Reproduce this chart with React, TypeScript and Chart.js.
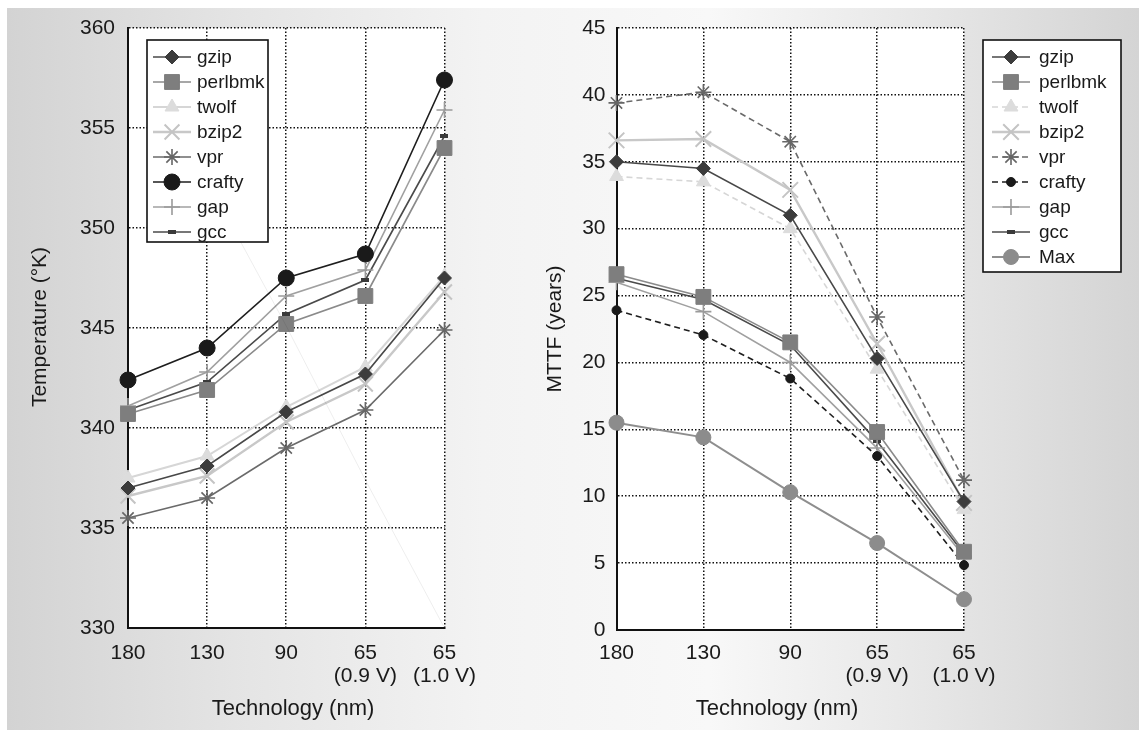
import React, { useEffect, useRef } from 'react';
import { Chart, registerables } from 'chart.js';
import { drawPoint } from 'chart.js/helpers';

Chart.register(...registerables);

// ---------------- data ----------------
const categories: string[][] = [['180'], ['130'], ['90'], ['65', '(0.9 V)'], ['65', '(1.0 V)']];
const tempTicks = [330, 335, 340, 345, 350, 355, 360];
const mttfTicks = [0, 5, 10, 15, 20, 25, 30, 35, 40, 45];

const tempGzip = [337.0, 338.1, 340.8, 342.7, 347.5];
const tempPerlbmk = [340.7, 341.9, 345.2, 346.6, 354.0];
const tempTwolf = [337.5, 338.6, 341.05, 343.05, 347.6];
const tempBzip2 = [336.6, 337.6, 340.3, 342.2, 346.8];
const tempVpr = [335.5, 336.5, 339.0, 340.9, 344.9];
const tempCrafty = [342.4, 344.0, 347.5, 348.7, 357.4];
const tempGap = [341.1, 342.8, 346.6, 347.9, 355.9];
const tempGcc = [340.9, 342.3, 345.7, 347.4, 354.6];
const tempFaint = [null, 352.4, 345.1, 337.4, 330.0];

const mttfGzip = [35.0, 34.5, 31.0, 20.3, 9.6];
const mttfPerlbmk = [26.6, 24.9, 21.5, 14.8, 5.85];
const mttfTwolf = [33.9, 33.5, 30.0, 19.5, 9.0];
const mttfBzip2 = [36.6, 36.7, 32.9, 21.4, 9.5];
const mttfVpr = [39.4, 40.2, 36.5, 23.4, 11.2];
const mttfCrafty = [23.9, 22.05, 18.8, 13.0, 4.85];
const mttfGap = [26.0, 23.8, 20.0, 13.6, 5.5];
const mttfGcc = [26.3, 24.7, 21.3, 14.1, 5.7];
const mttfMax = [15.5, 14.4, 10.3, 6.5, 2.3];

// ---------------- styles ----------------
const FONT = "'Liberation Sans', Arial, Helvetica, sans-serif";
const TEXT = '#1a1a1a';

function gccMarker(): HTMLCanvasElement {
  const c = document.createElement('canvas');
  c.width = 8;
  c.height = 4;
  const g = c.getContext('2d')!;
  g.fillStyle = '#3a3a3a';
  g.fillRect(0, 0, 8, 4);
  return c;
}

type St = {
  line: string; lw: number; dash?: number[];
  marker: any; r: number; fill: string; stroke: string; bw: number;
};

function mkDs(label: string, data: (number | null)[], st: St, extra: any = {}) {
  return {
    label,
    data,
    borderColor: st.line,
    borderWidth: st.lw,
    borderDash: st.dash || [],
    pointStyle: st.marker,
    pointRadius: st.r,
    pointHoverRadius: st.r,
    pointBackgroundColor: st.fill,
    pointBorderColor: st.stroke,
    pointBorderWidth: st.bw,
    fill: false,
    tension: 0,
    clip: false,
    spanGaps: true,
    ...extra,
  };
}

function plotBgPlugin() {
  return {
    id: 'plotBg',
    beforeDraw(chart: any) {
      const { ctx, chartArea: a } = chart;
      ctx.save();
      ctx.fillStyle = '#ffffff';
      ctx.fillRect(a.left, a.top, a.right - a.left, a.bottom - a.top);
      ctx.restore();
    },
  };
}

type LegendCfg = { x: number; y: number; w: number; h: number; row0: number; step: number; lx1: number; lx2: number; tx: number };

function legendPlugin(cfg: LegendCfg) {
  return {
    id: 'boxLegend',
    afterDatasetsDraw(chart: any) {
      const ctx = chart.ctx as CanvasRenderingContext2D;
      ctx.save();
      ctx.fillStyle = '#ffffff';
      ctx.fillRect(cfg.x, cfg.y, cfg.w, cfg.h);
      ctx.lineWidth = 1.6;
      ctx.strokeStyle = '#111';
      ctx.strokeRect(cfg.x, cfg.y, cfg.w, cfg.h);
      let k = 0;
      chart.data.datasets.forEach((d: any) => {
        if (d.hideInLegend) return;
        const y = cfg.row0 + k * cfg.step;
        k++;
        ctx.save();
        ctx.strokeStyle = d.borderColor;
        ctx.lineWidth = d.borderWidth;
        ctx.setLineDash(d.borderDash || []);
        ctx.beginPath();
        ctx.moveTo(cfg.lx1, y);
        ctx.lineTo(cfg.lx2, y);
        ctx.stroke();
        ctx.setLineDash([]);
        ctx.fillStyle = d.pointBackgroundColor;
        ctx.strokeStyle = d.pointBorderColor;
        ctx.lineWidth = d.pointBorderWidth;
        drawPoint(ctx, { pointStyle: d.pointStyle, rotation: 0, radius: d.pointRadius, borderWidth: d.pointBorderWidth } as any, (cfg.lx1 + cfg.lx2) / 2, y);
        ctx.restore();
        ctx.fillStyle = TEXT;
        ctx.font = `19px ${FONT}`;
        ctx.textBaseline = 'middle';
        ctx.textAlign = 'left';
        ctx.fillText(d.label, cfg.tx, y + 1);
      });
      ctx.restore();
    },
  };
}

type TitleCfg = { yText: string; yx: number; yy: number; xText: string; xx: number; xy: number };

function titlePlugin(cfg: TitleCfg) {
  return {
    id: 'axisTitles',
    afterDraw(chart: any) {
      const ctx = chart.ctx as CanvasRenderingContext2D;
      ctx.save();
      ctx.fillStyle = TEXT;
      ctx.font = `22px ${FONT}`;
      ctx.textAlign = 'center';
      ctx.textBaseline = 'alphabetic';
      ctx.fillText(cfg.xText, cfg.xx, cfg.xy);
      ctx.translate(cfg.yx, cfg.yy);
      ctx.rotate(-Math.PI / 2);
      ctx.font = `21px ${FONT}`;
      ctx.textBaseline = 'middle';
      ctx.fillText(cfg.yText, 0, 0);
      ctx.restore();
    },
  };
}

type PanelProps = {
  left: number; width: number;
  datasets: any[];
  yTicks: number[];
  yWidth: number; xHeight: number; padRight: number;
  yPad: number; xPad: number;
  legend: LegendCfg; titles: TitleCfg;
};

function Panel(p: PanelProps) {
  const ref = useRef<HTMLCanvasElement | null>(null);
  useEffect(() => {
    if (!ref.current) return;
    const yMin = p.yTicks[0];
    const yMax = p.yTicks[p.yTicks.length - 1];
    const chart = new Chart(ref.current, {
      type: 'line',
      data: { labels: categories as any, datasets: p.datasets },
      options: {
        animation: false,
        responsive: false,
        devicePixelRatio: 1,
        layout: { padding: { left: 0, top: 28, right: p.padRight, bottom: 0 } },
        plugins: { legend: { display: false }, tooltip: { enabled: false }, title: { display: false } },
        scales: {
          x: {
            type: 'category',
            offset: false,
            grid: { color: '#111', lineWidth: 1.5, drawTicks: false, offset: false },
            border: { display: true, color: '#111', width: 2, dash: [1.5, 2] },
            ticks: {
              color: TEXT,
              font: { family: FONT, size: 21, lineHeight: 1.1 },
              padding: p.xPad,
              maxRotation: 0,
              autoSkip: false,
            },
            afterFit: (s: any) => { s.height = p.xHeight; },
          },
          y: {
            type: 'linear',
            min: yMin,
            max: yMax,
            grid: { color: '#111', lineWidth: 1.5, drawTicks: false },
            border: { display: true, color: '#111', width: 2, dash: [1.5, 2] },
            ticks: {
              color: TEXT,
              font: { family: FONT, size: 21 },
              padding: p.yPad,
              autoSkip: false,
            },
            afterBuildTicks: (s: any) => { s.ticks = p.yTicks.map((v) => ({ value: v })); },
            afterFit: (s: any) => { s.width = p.yWidth; },
          },
        },
      } as any,
      plugins: [plotBgPlugin(), legendPlugin(p.legend), titlePlugin(p.titles)],
    });
    return () => chart.destroy();
  }, []);
  return (
    <canvas
      ref={ref}
      width={p.width}
      height={730}
      style={{ position: 'absolute', left: p.left, top: 0, width: p.width, height: 730 }}
    />
  );
}

export default function App() {
  const gcc = gccMarker();
  const leftSets = [
    mkDs('gzip', tempGzip, { line: '#484848', lw: 1.6, marker: 'rectRot', r: 7, fill: '#3c3c3c', stroke: '#3c3c3c', bw: 1 }),
    mkDs('perlbmk', tempPerlbmk, { line: '#8a8a8a', lw: 1.6, marker: 'rect', r: 10.5, fill: '#7e7e7e', stroke: '#7e7e7e', bw: 1 }),
    mkDs('twolf', tempTwolf, { line: '#d6d6d6', lw: 2, marker: 'triangle', r: 8, fill: '#dcdcdc', stroke: '#dcdcdc', bw: 1 }),
    mkDs('bzip2', tempBzip2, { line: '#c8c8c8', lw: 2.4, marker: 'crossRot', r: 10.5, fill: '#c8c8c8', stroke: '#c4c4c4', bw: 2 }),
    mkDs('vpr', tempVpr, { line: '#6a6a6a', lw: 1.6, marker: 'star', r: 8, fill: '#6a6a6a', stroke: '#666666', bw: 1.6 }),
    mkDs('crafty', tempCrafty, { line: '#1e1e1e', lw: 1.6, marker: 'circle', r: 8, fill: '#1a1a1a', stroke: '#1a1a1a', bw: 1 }),
    mkDs('gap', tempGap, { line: '#a0a0a0', lw: 1.6, marker: 'cross', r: 8, fill: '#a0a0a0', stroke: '#9a9a9a', bw: 1.6 }),
    mkDs('gcc', tempGcc, { line: '#4a4a4a', lw: 1.6, marker: gcc, r: 4, fill: '#3a3a3a', stroke: '#3a3a3a', bw: 0 }),
    mkDs('', tempFaint, { line: 'rgba(0,0,0,0.07)', lw: 1, marker: 'circle', r: 0, fill: 'transparent', stroke: 'transparent', bw: 0 }, { hideInLegend: true }),
  ];
  // faint line drawn first (underneath)
  leftSets.unshift(leftSets.pop());

  const rightSets = [
    mkDs('gzip', mttfGzip, { line: '#484848', lw: 1.6, marker: 'rectRot', r: 7, fill: '#3c3c3c', stroke: '#3c3c3c', bw: 1 }),
    mkDs('perlbmk', mttfPerlbmk, { line: '#8a8a8a', lw: 1.6, marker: 'rect', r: 10.5, fill: '#7e7e7e', stroke: '#7e7e7e', bw: 1 }),
    mkDs('twolf', mttfTwolf, { line: '#d6d6d6', lw: 1.6, dash: [6, 4], marker: 'triangle', r: 8, fill: '#dcdcdc', stroke: '#dcdcdc', bw: 1 }),
    mkDs('bzip2', mttfBzip2, { line: '#c8c8c8', lw: 2.4, marker: 'crossRot', r: 11, fill: '#c8c8c8', stroke: '#c4c4c4', bw: 2 }),
    mkDs('vpr', mttfVpr, { line: '#6a6a6a', lw: 1.6, dash: [6, 4], marker: 'star', r: 8, fill: '#6a6a6a', stroke: '#666666', bw: 1.6 }),
    mkDs('crafty', mttfCrafty, { line: '#1e1e1e', lw: 1.6, dash: [6, 4], marker: 'circle', r: 4.5, fill: '#1a1a1a', stroke: '#1a1a1a', bw: 1 }),
    mkDs('gap', mttfGap, { line: '#a0a0a0', lw: 1.6, marker: 'cross', r: 8, fill: '#a0a0a0', stroke: '#9a9a9a', bw: 1.6 }),
    mkDs('gcc', mttfGcc, { line: '#4a4a4a', lw: 1.6, marker: gcc, r: 4, fill: '#3a3a3a', stroke: '#3a3a3a', bw: 0 }),
    mkDs('Max', mttfMax, { line: '#8e8e8e', lw: 2, marker: 'circle', r: 7.5, fill: '#8c8c8c', stroke: '#8c8c8c', bw: 1 }),
  ];

  return (
    <div style={{ position: 'absolute', left: 0, top: 0, width: 1139, height: 730, overflow: 'hidden' }}>
      <div
        style={{
          position: 'absolute', left: 7, top: 8, width: 1132, height: 722,
          background: 'linear-gradient(to right, #d3d3d3 0%, #e4e4e4 20%, #f3f3f3 42%, #f8f8f8 62%, #e6e6e6 82%, #d4d4d4 100%)',
        }}
      />
      <Panel
        left={0}
        width={490}
        datasets={leftSets}
        yTicks={tempTicks}
        yWidth={128}
        xHeight={102}
        padRight={45}
        yPad={13}
        xPad={14}
        legend={{ x: 147, y: 40, w: 121, h: 202, row0: 57, step: 25, lx1: 153, lx2: 191, tx: 197 }}
        titles={{ yText: 'Temperature (°K)', yx: 40, yy: 327, xText: 'Technology (nm)', xx: 293, xy: 715 }}
      />
      <Panel
        left={490}
        width={649}
        datasets={rightSets}
        yTicks={mttfTicks}
        yWidth={126.5}
        xHeight={100}
        padRight={175}
        yPad={11}
        xPad={12}
        legend={{ x: 493, y: 40, w: 138, h: 232, row0: 57, step: 25, lx1: 502, lx2: 540, tx: 549 }}
        titles={{ yText: 'MTTF (years)', yx: 65, yy: 329, xText: 'Technology (nm)', xx: 287, xy: 715 }}
      />
    </div>
  );
}
